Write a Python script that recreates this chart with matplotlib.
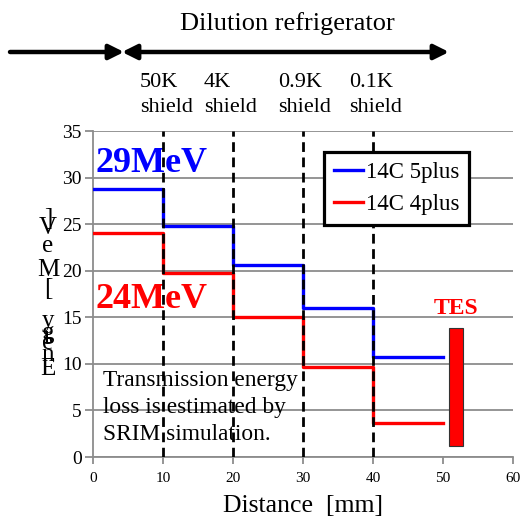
import matplotlib
matplotlib.use("Agg")
from matplotlib import pyplot as plt
from matplotlib.patches import Rectangle, FancyArrowPatch

plt.rcParams['font.family'] = ['Liberation Serif', 'DejaVu Serif']

# 各段の距離 [mm] とエネルギー [MeV]
edges = [0, 10, 20, 30, 40, 50]
e_5plus = [28.8, 24.8, 20.6, 16.0, 10.7]
e_4plus = [24.1, 19.8, 15.0, 9.7, 3.6]
shield_x = [10, 20, 30, 40]
shield_labels = ["50K\nshield", "4K\nshield", "0.9K\nshield", "0.1K\nshield"]
tes_x = (50.9, 52.9)
tes_y = (1.2, 13.9)

W, H = 523, 519
fig = plt.figure(figsize=(W / 100, H / 100), dpi=100)
ax = fig.add_axes([93 / W, 1 - 457 / H, 420 / W, 326 / H])

def fx(px):
    return px / W

def fy(py):
    return 1 - py / H

gray = '#8c8c8c'
ax.set_xlim(0, 60)
ax.set_ylim(0, 35)
ax.set_xticks(range(0, 61, 10))
ax.set_yticks(range(0, 36, 5))
ax.grid(axis='y', color=gray, lw=1.3)
ax.set_axisbelow(True)
for s in ['top', 'right']:
    ax.spines[s].set_visible(False)
for s in ['left', 'bottom']:
    ax.spines[s].set_color(gray)
    ax.spines[s].set_linewidth(1.3)
ax.tick_params(axis='x', colors=gray, labelcolor='black', labelsize=11, length=5, width=1.3, pad=6)
ax.tick_params(axis='y', colors=gray, labelcolor='black', labelsize=14, length=6, width=1.3, pad=2)

ax.step(edges, e_5plus + [e_5plus[-1]], where='post', color='#0000ff', lw=2.4, label='14C 5plus', zorder=3)
ax.step(edges, e_4plus + [e_4plus[-1]], where='post', color='#ff0000', lw=2.4, label='14C 4plus', zorder=3)

for xs in shield_x:
    ax.axvline(xs, color='black', lw=2, ls=(0, (3.5, 2)), zorder=4)

ax.add_patch(Rectangle((tes_x[0], tes_y[0]), tes_x[1] - tes_x[0], tes_y[1] - tes_y[0],
                       facecolor='#ff0000', edgecolor='#333333', lw=0.8, zorder=3))
ax.text(sum(tes_x) / 2, tes_y[1] + 0.9, "TES", color='#ff0000', fontsize=17,
        fontweight='bold', ha='center', va='bottom')

ax.text(0.3, 31.5, "29MeV", color='#0000ff', fontsize=26, fontweight='bold', va='center', ha='left', zorder=2)
ax.text(0.3, 16.9, "24MeV", color='#ff0000', fontsize=26, fontweight='bold', va='center', ha='left', zorder=2)

ax.text(1.4, 5.3, "Transmission energy\nloss is estimated by\nSRIM simulation.", fontsize=16.8,
        va='center', ha='left', linespacing=1.38, zorder=2)

leg = ax.legend(loc='upper left', bbox_to_anchor=(0.55, 0.935), borderaxespad=0, fontsize=16.5,
                handlelength=1.3, handletextpad=0.1, fancybox=False, framealpha=1,
                edgecolor='black', borderpad=0.42, labelspacing=0.5)
leg.get_frame().set_linewidth(2.3)
leg.set_zorder(5)

ax.set_xlabel("Distance  [mm]", fontsize=18.5, labelpad=7)

# 縦に積まれた軸ラベル
ylab_chars = list("Energy [MeV]")
ylab_py = [369, 355, 343, 337, 333, 321, 305, 289, 270, 246, 228, 219]
for ch, py in zip(ylab_chars, ylab_py):
    fig.text(fx(48), fy(py), ch, fontsize=18, ha='center', va='center')

# 上部の矢印とラベル
fig.text(fx(287), fy(24), "Dilution refrigerator", fontsize=19, ha='center', va='center')
arrow_kw = dict(arrowstyle='-|>', lw=3.2, color='black', mutation_scale=22, shrinkA=0, shrinkB=0)
fig.add_artist(FancyArrowPatch((fx(10), fy(52)), (fx(124), fy(52)),
                               transform=fig.transFigure, **arrow_kw))
arrow_kw2 = dict(arrow_kw, arrowstyle='<|-|>')
fig.add_artist(FancyArrowPatch((fx(122), fy(52)), (fx(449), fy(52)),
                               transform=fig.transFigure, **arrow_kw2))
for lab, px in zip(shield_labels, [140, 204, 278, 349]):
    fig.text(fx(px), fy(95), lab, fontsize=16, ha='left', va='center', linespacing=1.4)

fig.savefig("out.png", dpi=100)
